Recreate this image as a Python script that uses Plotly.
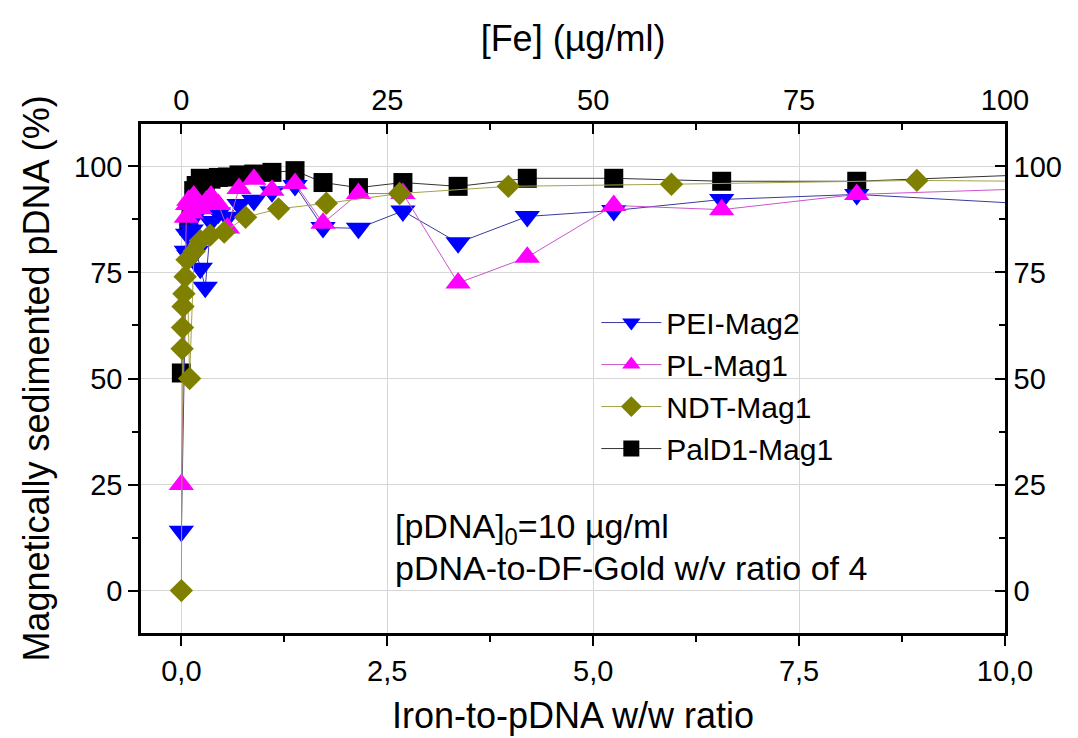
import plotly.graph_objects as go

# ---- data ----
x_common = [0, 0.06, 0.075, 0.09, 0.12, 0.15, 0.18, 0.23, 0.29, 0.36, 0.45, 0.56,
            0.7, 0.88, 1.1, 1.38, 1.72, 2.15, 2.69, 3.36, 4.2, 5.25, 6.56, 8.2, 10.25]
pei_mag2 = [14, 80, 84, 79, 85, 88, 80, 76, 71.5, 87, 89, 88,
            91, 92, 94, 95.5, 85.6, 85.4, 89.5, 82, 88.2, 89.6, 92.2, 93.4, 91.2]
pl_mag1 = [25, 88, 91, 92, 89, 93, 92, 90, 91.5, 93, 91, 85.5,
           94.8, 97, 94.4, 96, 86.6, 93.6, 93.6, 72.5, 78.6, 90.8, 89.8, 93.4, 94.7]

x_pald1 = [0, 0.09, 0.12, 0.15, 0.18, 0.23, 0.29, 0.36, 0.45, 0.56, 0.7, 0.88,
           1.1, 1.38, 1.72, 2.15, 2.69, 3.36, 4.2, 5.25, 6.56, 8.2, 10.25]
pald1_mag1 = [51.3, 86, 90, 94.3, 95.5, 97.2, 96.5, 97, 97.4, 97.5, 98, 98.2,
              98.6, 99, 96.2, 95, 96.2, 95.3, 97.2, 97.2, 96.5, 96.5, 98]

x_ndt = [0, 0.009, 0.014, 0.02, 0.031, 0.046, 0.069, 0.1, 0.155, 0.23, 0.35, 0.52,
         0.78, 1.18, 1.76, 2.65, 3.97, 5.95, 8.93, 13.4]
ndt_mag1 = [0, 57, 62, 67, 70, 74, 78, 50, 80, 82.5, 83.8, 84.5,
            88, 90, 91.3, 93.6, 95.3, 95.8, 96.7, 96]

x_ticks = [0, 2.5, 5, 7.5, 10]
fe_ticks = [0, 25, 50, 75, 100]
y_ticks = [0, 25, 50, 75, 100]

FONT = "Arial, Liberation Sans, sans-serif"

fig = go.Figure()

series = [
    ("PalD1-Mag1", x_pald1, pald1_mag1, "#000000", "#333333", "square", 19, 4),
    ("PEI-Mag2", x_common, pei_mag2, "#0000ff", "#3a3aa0", "triangle-down", 22, 1),
    ("PL-Mag1", x_common, pl_mag1, "#ff00ff", "#cc55cc", "triangle-up", 22, 2),
    ("NDT-Mag1", x_ndt, ndt_mag1, "#808000", "#a3a34a", "diamond", 18, 3),
]
for name, xs, ys, mc, lc, sym, sz, rank in series:
    fig.add_trace(go.Scatter(
        x=xs, y=ys, name=name, mode="lines+markers",
        line=dict(color=lc, width=1),
        marker=dict(color=mc, symbol=sym, size=sz, line=dict(width=0)),
        legendrank=rank, cliponaxis=True,
    ))

# invisible helper trace so that the top ([Fe]) and right axes are drawn
fig.add_trace(go.Scatter(
    x=fe_ticks, y=y_ticks, xaxis="x2", yaxis="y2", mode="markers",
    marker=dict(opacity=0), showlegend=False, hoverinfo="skip",
))

tick_font = dict(family=FONT, size=29, color="black")
title_font = dict(family=FONT, size=36, color="black")

fig.update_layout(
    width=1070, height=730,
    paper_bgcolor="white", plot_bgcolor="white",
    separators=",.",
    margin=dict(l=133, r=73, t=116, b=105, autoexpand=False),
    font=dict(family=FONT, size=28, color="black"),
    xaxis=dict(
        range=[-0.49, 10], tickvals=x_ticks, tickformat=".1f",
        ticks="outside", ticklen=10, tickwidth=2, tickcolor="black",
        minor=dict(tick0=0, dtick=1.25, ticks="outside", ticklen=6, tickwidth=2,
                   tickcolor="black", showgrid=False),
        showline=True, linewidth=2.5, linecolor="black",
        showgrid=True, gridcolor="#d6d6d6", gridwidth=1, zeroline=False,
        tickfont=tick_font, automargin=False,
        title=dict(text="Iron-to-pDNA w/w ratio", font=title_font, standoff=18),
    ),
    xaxis2=dict(
        overlaying="x", side="top", anchor="y",
        range=[-4.9, 100], tickvals=fe_ticks,
        ticks="inside", ticklen=10, tickwidth=2, tickcolor="black",
        minor=dict(tick0=0, dtick=12.5, ticks="inside", ticklen=6, tickwidth=2,
                   tickcolor="black", showgrid=False),
        showline=True, linewidth=2.5, linecolor="black",
        showgrid=False, zeroline=False, tickfont=tick_font, automargin=False,
        title=dict(text="[Fe] (µg/ml)", font=title_font, standoff=22),
    ),
    yaxis=dict(
        range=[-10, 110], tickvals=y_ticks,
        ticks="outside", ticklen=10, tickwidth=2, tickcolor="black",
        minor=dict(tick0=0, dtick=12.5, ticks="outside", ticklen=6, tickwidth=2,
                   tickcolor="black", showgrid=False),
        showline=True, linewidth=2.5, linecolor="black",
        showgrid=True, gridcolor="#d6d6d6", gridwidth=1, zeroline=False,
        tickfont=tick_font, automargin=False,
        title=dict(text="Magnetically sedimented pDNA (%)", font=title_font, standoff=14),
    ),
    yaxis2=dict(
        overlaying="y", side="right", anchor="x",
        range=[-10, 110], tickvals=y_ticks,
        ticks="inside", ticklen=10, tickwidth=2, tickcolor="black",
        minor=dict(tick0=0, dtick=12.5, ticks="inside", ticklen=6, tickwidth=2,
                   tickcolor="black", showgrid=False),
        showline=True, linewidth=2.5, linecolor="black",
        showgrid=False, zeroline=False, tickfont=tick_font, automargin=False,
    ),
    legend=dict(
        x=0.527, y=0.661, xanchor="left", yanchor="top",
        bgcolor="rgba(0,0,0,0)", borderwidth=0,
        font=dict(family=FONT, size=30, color="black"),
        itemwidth=60, tracegroupgap=0,
    ),
    showlegend=True,
)

fig.add_annotation(
    xref="paper", yref="paper", x=0.2917, y=0.206, xanchor="left", yanchor="middle",
    text="[pDNA]<sub>0</sub>=10 µg/ml", showarrow=False,
    font=dict(family=FONT, size=34, color="black"),
)
fig.add_annotation(
    xref="paper", yref="paper", x=0.2917, y=0.1277, xanchor="left", yanchor="middle",
    text="pDNA-to-DF-Gold w/v ratio of 4", showarrow=False,
    font=dict(family=FONT, size=34, color="black"),
)

fig.write_html("out.html")
